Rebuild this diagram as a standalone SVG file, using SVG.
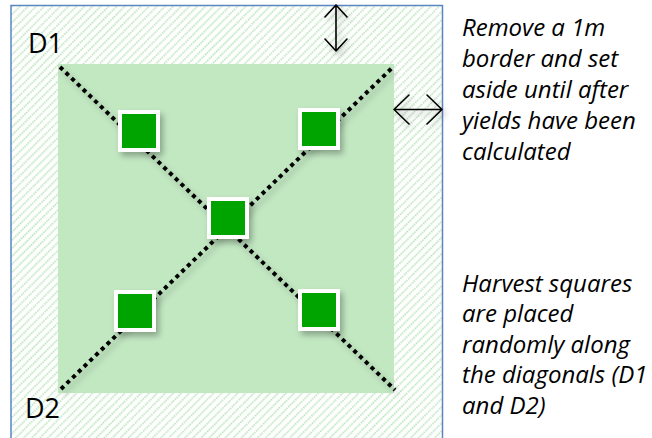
<svg xmlns="http://www.w3.org/2000/svg" width="652" height="438" viewBox="0 0 652 438">
<style>
.lbl{font-family:"Open Sans","Liberation Sans",sans-serif;font-size:27px;fill:#000}
.note{font-family:"Open Sans","Liberation Sans",sans-serif;font-style:italic;font-size:24px;fill:#000}
.diag{stroke:#000;stroke-width:4;stroke-dasharray:4 4;fill:none}
.arr{stroke:#000;stroke-width:1.6;fill:none;stroke-linecap:round;stroke-linejoin:round}
.sqo{fill:#fff}
.sqi{fill:#00a400}
</style>
<defs>
<pattern id="hatch" width="5.7" height="5" patternUnits="userSpaceOnUse" patternTransform="rotate(45)">
<line x1="1.5" y1="0" x2="1.5" y2="5" stroke="#b0dfb0" stroke-width="1.6" stroke-dasharray="1.6 0.9"/>
</pattern>
<filter id="sh" x="-30%" y="-30%" width="160%" height="160%">
<feGaussianBlur in="SourceAlpha" stdDeviation="3"/>
<feOffset dx="3" dy="4" result="b"/>
<feComponentTransfer><feFuncA type="linear" slope="0.3"/></feComponentTransfer>
<feMerge><feMergeNode/><feMergeNode in="SourceGraphic"/></feMerge>
</filter>
</defs>
<rect x="0" y="0" width="652" height="438" fill="#fff"/>
<g id="plot">
<rect x="11" y="5.5" width="431.5" height="440" fill="#fff"/>
<rect x="11" y="5.5" width="431.5" height="440" fill="url(#hatch)" stroke="#5b86c2" stroke-width="1.5"/>
<rect x="58" y="64" width="336" height="329" fill="#c2e8c2"/>
</g>
<g id="connectors" filter="url(#sh)">
<line class="diag" x1="60" y1="67" x2="395" y2="390"/>
<line class="diag" x1="61" y1="389" x2="393" y2="67"/>
</g>
<g id="arrow-v" filter="url(#sh)">
<path class="arr" d="M336 5 V51 M325 17 L336 5 L347 17 M325 39 L336 51 L347 39"/>
</g>
<g id="arrow-h" filter="url(#sh)">
<path class="arr" d="M394 109.5 H442 M409 95 L394 109.5 L409 124 M427 95 L442 109.5 L427 124"/>
</g>
<g id="sq-tl" filter="url(#sh)"><rect class="sqo" x="118" y="110" width="42" height="42"/><rect class="sqi" x="122" y="114" width="34" height="34"/></g>
<g id="sq-tr" filter="url(#sh)"><rect class="sqo" x="298" y="108" width="42" height="42"/><rect class="sqi" x="302" y="112" width="34" height="34"/></g>
<g id="sq-c" filter="url(#sh)"><rect class="sqo" x="207" y="197" width="42" height="42"/><rect class="sqi" x="211" y="201" width="34" height="34"/></g>
<g id="sq-bl" filter="url(#sh)"><rect class="sqo" x="114" y="290" width="42" height="42"/><rect class="sqi" x="118" y="294" width="34" height="34"/></g>
<g id="sq-br" filter="url(#sh)"><rect class="sqo" x="298" y="289" width="42" height="42"/><rect class="sqi" x="302" y="293" width="34" height="34"/></g>
<g id="label-d1"><text class="lbl" x="28" y="53">D1</text></g>
<g id="label-d2"><text class="lbl" x="25" y="418">D2</text></g>
<g id="note-border">
<text class="note" x="462" y="36">Remove a 1m</text>
<text class="note" x="462" y="67">border and set</text>
<text class="note" x="462" y="98">aside until after</text>
<text class="note" x="462" y="129">yields have been</text>
<text class="note" x="462" y="160">calculated</text>
</g>
<g id="note-harvest">
<text class="note" x="462" y="292">Harvest squares</text>
<text class="note" x="462" y="322">are placed</text>
<text class="note" x="462" y="353">randomly along</text>
<text class="note" x="462" y="383">the diagonals (D1</text>
<text class="note" x="462" y="414">and D2)</text>
</g>
</svg>
